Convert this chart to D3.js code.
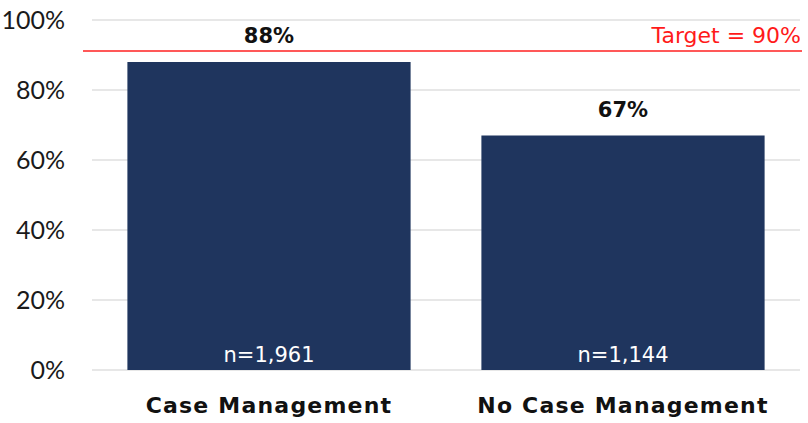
<!DOCTYPE html>
<html><head><meta charset="utf-8">
<script src="https://cdn.jsdelivr.net/npm/d3@7"></script>
<style>body{margin:0;background:#fff}svg{display:block}</style>
</head><body>
<script>
const categories = ["Case Management", "No Case Management"];
const values = [88, 67];
const nLabels = ["n=1,961", "n=1,144"];
const yTicks = [0, 20, 40, 60, 80, 100];
const targetValue = 90;
const targetLabel = "Target = 90%";

const W = 808, H = 423;
const font = "'DejaVu Sans', sans-serif";
const tickFont = "Lato, 'DejaVu Sans', sans-serif";
const svg = d3.select("body").append("svg").attr("width", W).attr("height", H);

const x = d3.scaleBand().domain(categories).range([92, 800]).paddingInner(0.2).paddingOuter(0.1);
const y = d3.scaleLinear().domain([0, 100]).range([370, 20]);

// gridlines
svg.append("g").selectAll("line").data(yTicks).join("line")
  .attr("x1", 92).attr("x2", 800)
  .attr("y1", d => y(d)).attr("y2", d => y(d))
  .attr("stroke", "#d0d0d0").attr("stroke-width", 1.2);

// y tick labels
svg.append("g").selectAll("text").data(yTicks).join("text")
  .attr("x", 65).attr("y", d => y(d)).attr("dy", "0.36em")
  .attr("text-anchor", "end").attr("font-family", tickFont).attr("font-size", 25)
  .attr("fill", "#1a1a1a").text(d => d + "%");

// bars
svg.append("g").selectAll("rect").data(values).join("rect")
  .attr("x", (d, i) => x(categories[i])).attr("width", x.bandwidth())
  .attr("y", d => y(d)).attr("height", d => y(0) - y(d))
  .attr("fill", "#1f355e");

// target line
svg.append("line").attr("x1", 83).attr("x2", 802)
  .attr("y1", y(targetValue) - 4).attr("y2", y(targetValue) - 4)
  .attr("stroke", "#ff2020").attr("stroke-width", 1.5);
svg.append("text").attr("x", 801).attr("y", y(targetValue) - 12)
  .attr("text-anchor", "end").attr("font-family", font).attr("font-size", 22)
  .attr("fill", "#ff1a1a").text(targetLabel);

// value labels
svg.append("g").selectAll("text").data(values).join("text")
  .attr("x", (d, i) => x(categories[i]) + x.bandwidth() / 2)
  .attr("y", d => y(d) - 19).attr("text-anchor", "middle")
  .attr("font-family", font).attr("font-size", 21).attr("font-weight", "bold")
  .attr("fill", "#111").text(d => d + "%");

// n labels
svg.append("g").selectAll("text").data(nLabels).join("text")
  .attr("x", (d, i) => x(categories[i]) + x.bandwidth() / 2)
  .attr("y", y(0) - 8).attr("text-anchor", "middle")
  .attr("font-family", font).attr("font-size", 21)
  .attr("fill", "#fff").text(d => d);

// category labels
svg.append("g").selectAll("text").data(categories).join("text")
  .attr("x", d => x(d) + x.bandwidth() / 2)
  .attr("y", 413).attr("text-anchor", "middle")
  .attr("font-family", font).attr("font-size", 22).attr("font-weight", "bold")
  .attr("letter-spacing", 1.2)
  .attr("fill", "#111").text(d => d);
</script>
</body></html>
